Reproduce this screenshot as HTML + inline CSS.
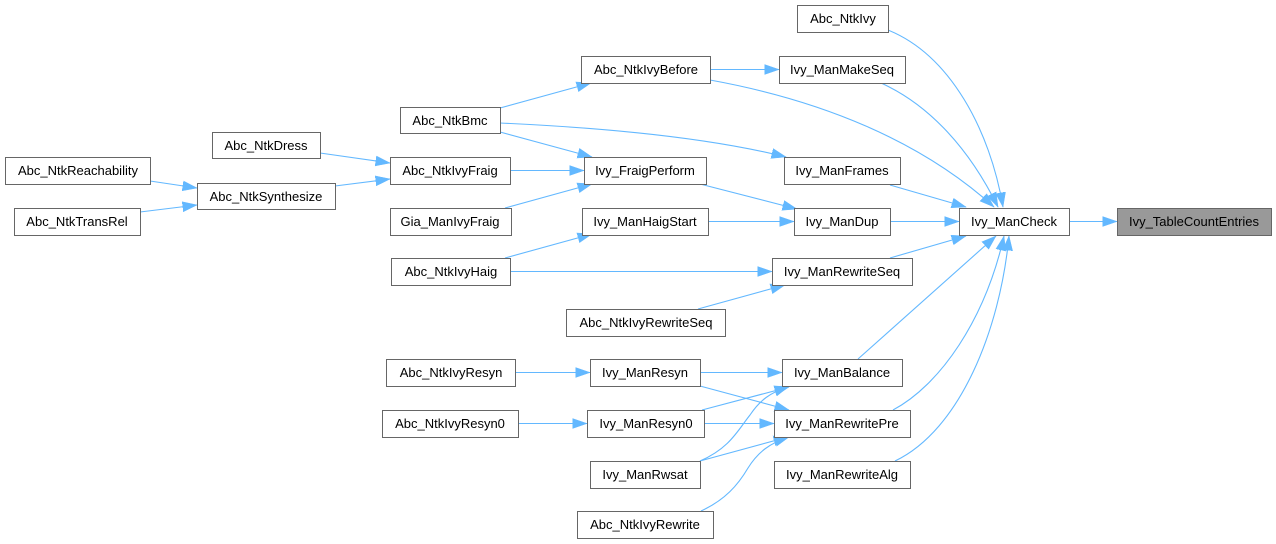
<!DOCTYPE html>
<html><head><meta charset="utf-8"><style>
html,body{margin:0;padding:0;background:#fff;}
svg{display:block;}
text{font-family:"Liberation Sans",Arial,sans-serif;font-size:13px;fill:#000;text-anchor:middle;}
.n{fill:#fff;stroke:#666;stroke-width:1;}
.e{fill:none;stroke:#63b8ff;stroke-width:1.1;}
</style></head><body>
<svg width="1276" height="544" viewBox="0 0 1276 544" xmlns="http://www.w3.org/2000/svg">
<defs>
<marker id="a" markerWidth="16" markerHeight="12" refX="14.5" refY="5.5" orient="auto" markerUnits="userSpaceOnUse">
<polygon points="0,0.5 14.5,5.5 0,10.5" fill="#63b8ff" stroke="#63b8ff" stroke-width="0.5"/>
</marker>
</defs>
<g marker-end="url(#a)">
<path class="e" d="M150,181 L197,188"/>
<path class="e" d="M140,212 L197,205"/>
<path class="e" d="M320,153 L390,163"/>
<path class="e" d="M335,186 L390,179"/>
<path class="e" d="M500,108 L591,83"/>
<path class="e" d="M500,132 L592,157"/>
<path class="e" d="M500,123 C610,128 710,138 786,157"/>
<path class="e" d="M510,170.5 L584,170.5"/>
<path class="e" d="M505,208 L592,184"/>
<path class="e" d="M710,69.5 L779,69.5"/>
<path class="e" d="M710,80 C820,100 920,140 994,207"/>
<path class="e" d="M700,184 L797,209"/>
<path class="e" d="M708,221.5 L794,221.5"/>
<path class="e" d="M505,258 L592,234"/>
<path class="e" d="M510,271.5 L772,271.5"/>
<path class="e" d="M698,309 L785,285"/>
<path class="e" d="M888,30 C950,55 990,130 1003,207"/>
<path class="e" d="M881,83 C930,105 970,150 998,207"/>
<path class="e" d="M890,185 L966,207"/>
<path class="e" d="M890,221.5 L959,221.5"/>
<path class="e" d="M890,258 L966,236"/>
<path class="e" d="M858,359 L996,236"/>
<path class="e" d="M893,410 C940,385 985,320 1004,236"/>
<path class="e" d="M895,461 C960,430 1000,330 1009,236"/>
<path class="e" d="M1069,221.5 L1117,221.5"/>
<path class="e" d="M515,372.5 L590,372.5"/>
<path class="e" d="M518,423.5 L587,423.5"/>
<path class="e" d="M700,372.5 L782,372.5"/>
<path class="e" d="M700,386 L789,410"/>
<path class="e" d="M702,410 L789,387"/>
<path class="e" d="M704,423.5 L774,423.5"/>
<path class="e" d="M700,461 C730,448 738,430 750,415 C760,400 770,393 789,386"/>
<path class="e" d="M700,461 L788,437"/>
<path class="e" d="M701,511 C725,500 738,485 748,468 C758,452 770,443 789,437"/>
</g>
<g>
<rect class="n" x="797.5" y="5.5" width="91" height="27"/><text x="843" y="23">Abc_NtkIvy</text>
<rect class="n" x="581.5" y="56.5" width="129" height="27"/><text x="646" y="74">Abc_NtkIvyBefore</text>
<rect class="n" x="779.5" y="56.5" width="126" height="27"/><text x="842" y="74">Ivy_ManMakeSeq</text>
<rect class="n" x="400.5" y="107.5" width="100" height="26"/><text x="450" y="125">Abc_NtkBmc</text>
<rect class="n" x="212.5" y="132.5" width="108" height="26"/><text x="266" y="150">Abc_NtkDress</text>
<rect class="n" x="5.5" y="157.5" width="145" height="27"/><text x="78" y="175">Abc_NtkReachability</text>
<rect class="n" x="390.5" y="157.5" width="120" height="27"/><text x="450" y="175">Abc_NtkIvyFraig</text>
<rect class="n" x="584.5" y="157.5" width="122" height="27"/><text x="645" y="175">Ivy_FraigPerform</text>
<rect class="n" x="784.5" y="157.5" width="116" height="27"/><text x="842" y="175">Ivy_ManFrames</text>
<rect class="n" x="197.5" y="183.5" width="138" height="26"/><text x="266" y="201">Abc_NtkSynthesize</text>
<rect class="n" x="14.5" y="208.5" width="126" height="27"/><text x="77" y="226">Abc_NtkTransRel</text>
<rect class="n" x="390.5" y="208.5" width="121" height="27"/><text x="450" y="226">Gia_ManIvyFraig</text>
<rect class="n" x="582.5" y="208.5" width="126" height="27"/><text x="645" y="226">Ivy_ManHaigStart</text>
<rect class="n" x="794.5" y="208.5" width="96" height="27"/><text x="842" y="226">Ivy_ManDup</text>
<rect class="n" x="959.5" y="208.5" width="110" height="27"/><text x="1014" y="226">Ivy_ManCheck</text>
<rect x="1117.5" y="208.5" width="154" height="27" fill="#999" stroke="#666"/><text x="1194" y="226">Ivy_TableCountEntries</text>
<rect class="n" x="391.5" y="258.5" width="119" height="27"/><text x="451" y="276">Abc_NtkIvyHaig</text>
<rect class="n" x="772.5" y="258.5" width="140" height="27"/><text x="842" y="276">Ivy_ManRewriteSeq</text>
<rect class="n" x="566.5" y="309.5" width="159" height="27"/><text x="646" y="327">Abc_NtkIvyRewriteSeq</text>
<rect class="n" x="386.5" y="359.5" width="129" height="27"/><text x="451" y="377">Abc_NtkIvyResyn</text>
<rect class="n" x="590.5" y="359.5" width="110" height="27"/><text x="645" y="377">Ivy_ManResyn</text>
<rect class="n" x="782.5" y="359.5" width="120" height="27"/><text x="842" y="377">Ivy_ManBalance</text>
<rect class="n" x="382.5" y="410.5" width="136" height="27"/><text x="450" y="428">Abc_NtkIvyResyn0</text>
<rect class="n" x="587.5" y="410.5" width="117" height="27"/><text x="646" y="428">Ivy_ManResyn0</text>
<rect class="n" x="774.5" y="410.5" width="136" height="27"/><text x="842" y="428">Ivy_ManRewritePre</text>
<rect class="n" x="590.5" y="461.5" width="110" height="27"/><text x="645" y="479">Ivy_ManRwsat</text>
<rect class="n" x="774.5" y="461.5" width="136" height="27"/><text x="842" y="479">Ivy_ManRewriteAlg</text>
<rect class="n" x="577.5" y="511.5" width="136" height="27"/><text x="645" y="529">Abc_NtkIvyRewrite</text>
</g>
</svg>
</body></html>
